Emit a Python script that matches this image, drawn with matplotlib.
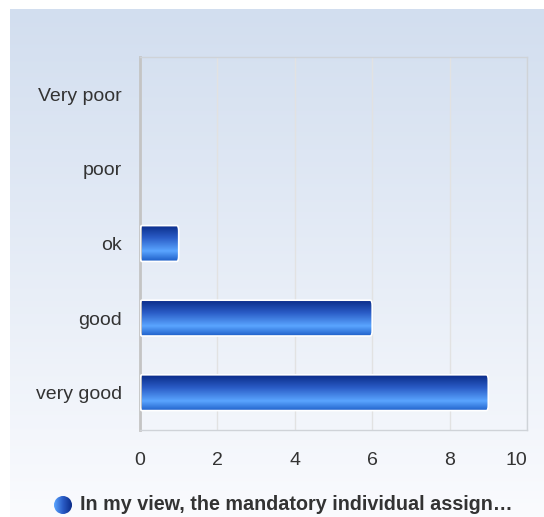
import numpy as np
import matplotlib
matplotlib.use("Agg")
import matplotlib.pyplot as plt
from matplotlib.patches import FancyBboxPatch, Circle
from matplotlib.colors import LinearSegmentedColormap

categories = ["Very poor", "poor", "ok", "good", "very good"]
values = [0, 0, 1, 6, 9]
xticks = [0, 2, 4, 6, 8, 10]
legend_label = "In my view, the mandatory individual assign\u2026"

plt.rcParams['font.family'] = ['Liberation Sans', 'DejaVu Sans']

W, H = 544, 517
fig = plt.figure(figsize=(W / 100, H / 100), dpi=100)
fig.patch.set_facecolor("white")

# background panel gradient
bg = fig.add_axes([10 / W, 0, 1 - 10 / W, 1 - 9 / H], zorder=0)
bg_cmap = LinearSegmentedColormap.from_list("bg", ["#d2deef", "#fafbfe"])
grad = np.linspace(0, 1, 256).reshape(-1, 1)
bg.imshow(grad, aspect="auto", cmap=bg_cmap, extent=[0, 1, 0, 1], origin="upper")
bg.set_axis_off()

# plot area
x0, x1 = 140, 527
y0, y1 = 57, 430
ax = fig.add_axes([x0 / W, 1 - y1 / H, (x1 - x0) / W, (y1 - y0) / H], zorder=1)
ax.patch.set_alpha(0)
ax.set_xlim(0, 10)
n = len(categories)
ax.set_ylim(n - 0.5, -0.5)
ax.set_xticks(xticks)
ax.set_xticklabels([str(t) for t in xticks])
ax.set_yticks(range(n))
ax.set_yticklabels(categories)
ax.tick_params(axis="both", length=0, labelsize=14, colors="#333333")
ax.tick_params(axis="x", pad=16)
ax.tick_params(axis="y", pad=13)
ax.get_xticklabels()[-1].set_ha("right")
ax.grid(axis="x", color="#e2e2e2", linewidth=1)
ax.set_axisbelow(True)
for s in ["top", "right", "bottom"]:
    ax.spines[s].set_color("#cfd3d8")
    ax.spines[s].set_linewidth(1)
ax.spines["left"].set_color("#c4c4c4")
ax.spines["left"].set_linewidth(2)

bar_cmap = LinearSegmentedColormap.from_list(
    "bar", [(0, "#0a2b88"), (0.35, "#2a5cc6"), (0.72, "#5aa5ff"), (1, "#1e5fc8")])
bar_h = 0.48
for i, v in enumerate(values):
    if v <= 0:
        continue
    patch = FancyBboxPatch((0, i - bar_h / 2), v, bar_h,
                           boxstyle="round,pad=0,rounding_size=0.05",
                           mutation_aspect=1.5,
                           facecolor="none", edgecolor="white", linewidth=1.2, zorder=3)
    ax.add_patch(patch)
    im = ax.imshow(np.linspace(0, 1, 256).reshape(-1, 1), aspect="auto", cmap=bar_cmap,
                   extent=[0, v, i + bar_h / 2, i - bar_h / 2], origin="upper", zorder=2)
    im.set_clip_path(patch)
ax.set_xlim(0, 10)
ax.set_ylim(n - 0.5, -0.5)

# legend
lg = fig.add_axes([0, 0, 1, 1], zorder=2)
lg.set_xlim(0, W)
lg.set_ylim(H, 0)
lg.set_axis_off()
circ = Circle((63, 505), 9, facecolor="none", edgecolor="none")
lg.add_patch(circ)
cmap_h = LinearSegmentedColormap.from_list("leg", ["#5aa5ff", "#2a5cc6", "#0a2b88"])
img = lg.imshow(np.linspace(0, 1, 256).reshape(1, -1), aspect="auto", cmap=cmap_h,
                extent=[54, 72, 514, 496], zorder=3)
img.set_clip_path(circ)
lg.text(80, 505, legend_label, fontsize=14.2, fontweight="bold", color="#333333",
        va="center", ha="left")
lg.set_xlim(0, W)
lg.set_ylim(H, 0)

fig.savefig("out.png", dpi=100, facecolor=fig.get_facecolor())
